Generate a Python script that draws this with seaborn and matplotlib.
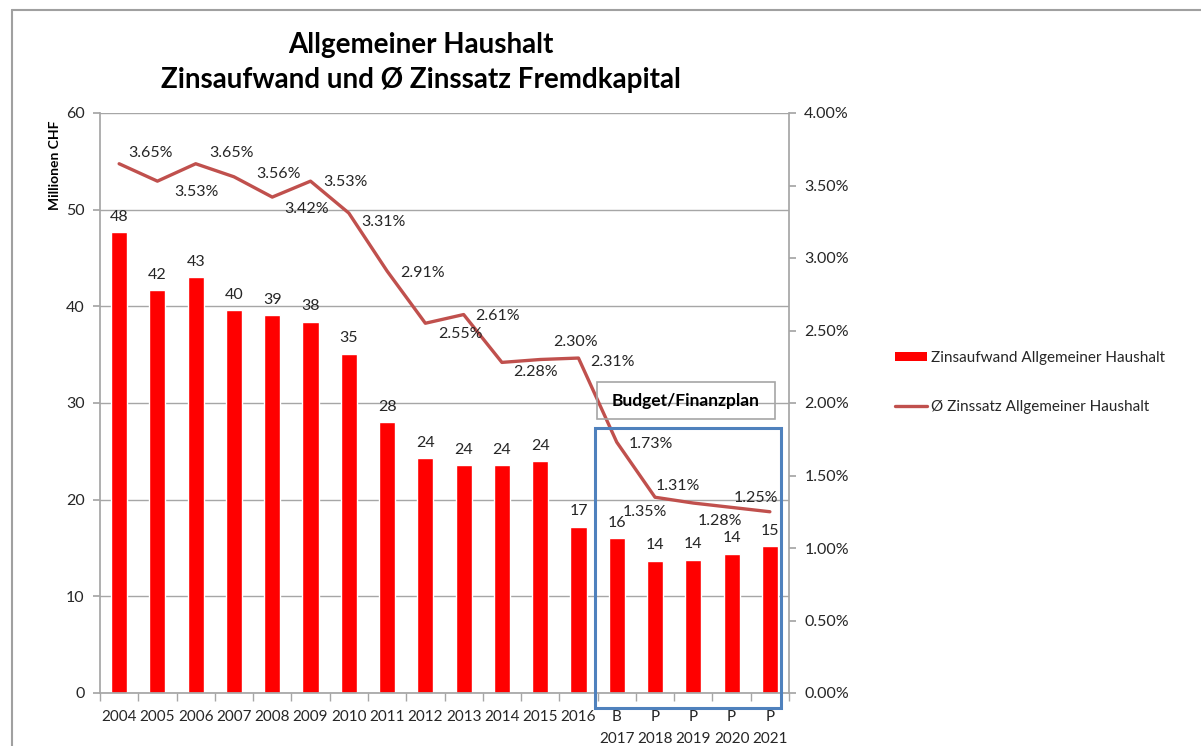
import numpy as np
import matplotlib
matplotlib.use("Agg")
from matplotlib import pyplot as plt
from matplotlib.patches import Patch, Rectangle
from matplotlib.lines import Line2D
from matplotlib.ticker import FuncFormatter
import seaborn as sns

sns.set_theme(style="white")
plt.rcParams["font.family"] = ["Lato", "DejaVu Sans"]

# data
years = ["2004", "2005", "2006", "2007", "2008", "2009", "2010", "2011", "2012",
         "2013", "2014", "2015", "2016", "B\n2017", "P\n2018", "P\n2019", "P\n2020", "P\n2021"]
zinsaufwand = [47.7, 41.7, 43.0, 39.6, 39.1, 38.4, 35.1, 28.0, 24.3,
               23.6, 23.6, 24.0, 17.2, 16.0, 13.7, 13.8, 14.4, 15.2]
zinssatz = [3.65, 3.53, 3.65, 3.56, 3.42, 3.53, 3.31, 2.91, 2.55,
            2.61, 2.28, 2.30, 2.31, 1.73, 1.35, 1.31, 1.28, 1.25]

bar_label = "Zinsaufwand Allgemeiner Haushalt"
line_label = "Ø Zinssatz Allgemeiner Haushalt"

# label offsets for the rate labels (pixels, right / down)
rate_offsets = [(31, -11), (39, 11), (36, -11), (45, -3), (34, 12), (35, 1),
                (35, 9), (35, 2), (35, 11), (34, 1), (34, 10), (35, -17),
                (34, 4), (34, 2), (-10, 15), (-15, -17), (-12, 14), (-14, -14)]

W, H = 1201, 746
fig = plt.figure(figsize=(W / 100, H / 100), dpi=100)
ax = fig.add_axes([100 / W, 1 - 693 / H, 689 / W, 580 / H])

text_col = "#262626"
grid_col = "#A6A6A6"
bar_col = "#FF0000"
line_col = "#C0504D"

sns.barplot(x=years, y=zinsaufwand, color=bar_col, width=0.42, saturation=1,
            ax=ax, zorder=2)
ax.bar_label(ax.containers[0], fmt="%.0f", padding=6, fontsize=11.5, color=text_col)

ax.set_ylim(0, 60)
ax.set_xlim(-0.5, len(years) - 0.5)
ax.set_yticks(np.arange(0, 61, 10))
ax.yaxis.grid(True, color=grid_col, lw=1)
ax.set_axisbelow(True)
ax.set_ylabel("")
for s in ["top", "right"]:
    ax.spines[s].set_visible(False)
for s in ["left", "bottom"]:
    ax.spines[s].set_color(grid_col)
ax.tick_params(axis="y", length=5, color=grid_col, labelsize=11.5, labelcolor=text_col, pad=6, left=True)
ax.tick_params(axis="x", which="major", length=0, labelsize=11, labelcolor=text_col, pad=12.5)
for lbl in ax.get_xticklabels():
    lbl.set_linespacing(1.7)
ax.set_xticks(np.arange(-0.5, len(years), 1), minor=True)
ax.tick_params(axis="x", which="minor", length=6, color=grid_col, bottom=True)

ax2 = ax.twinx()
sns.lineplot(x=np.arange(len(years)), y=zinssatz, color=line_col, lw=2.4, ax=ax2, zorder=3)
ax2.set_ylim(0, 4)
ax2.set_yticks(np.arange(0, 4.01, 0.5))
ax2.yaxis.set_major_formatter(FuncFormatter(lambda v, p: f"{v:.2f}%"))
for s in ["top", "left", "bottom"]:
    ax2.spines[s].set_visible(False)
ax2.spines["right"].set_color(grid_col)
ax2.tick_params(axis="y", length=5, color=grid_col, labelsize=11.5, labelcolor=text_col, pad=6, right=True)
ax2.grid(False)

for i, (v, (dx, dy)) in enumerate(zip(zinssatz, rate_offsets)):
    ax2.annotate(f"{v:.2f}%", (i, v), xytext=(dx * 0.72, -dy * 0.72),
                 textcoords="offset points", ha="center", va="center",
                 fontsize=11.5, color=text_col)

# title
fig.text(421 / W, 1 - 45 / H, "Allgemeiner Haushalt", ha="center", va="center",
         fontsize=20, fontweight="bold", color="black")
fig.text(421 / W, 1 - 80 / H, "Zinsaufwand und Ø Zinssatz Fremdkapital", ha="center",
         va="center", fontsize=20, fontweight="bold", color="black")

fig.text(55 / W, 1 - 165 / H, "Millionen CHF", rotation=90, ha="center", va="center",
         fontsize=10, fontweight="bold", color="black")

# budget / plan markers
fig.add_artist(Rectangle((595 / W, 1 - 708 / H), 186 / W, 280 / H, transform=fig.transFigure,
                         fill=False, edgecolor="#4F81BD", lw=2.2, zorder=5))
fig.add_artist(Rectangle((597 / W, 1 - 419 / H), 178 / W, 37 / H, transform=fig.transFigure,
                         fill=False, edgecolor="#A6A6A6", lw=1.2, zorder=1))
fig.text(686 / W, 1 - 401 / H, "Budget/Finanzplan", ha="center", va="center",
         fontsize=12.5, fontweight="bold", color="black")

# legend
handles = [Patch(facecolor=bar_col, edgecolor="none"), Line2D([], [], color=line_col, lw=2.4)]
fig.legend(handles, [bar_label, line_label], loc="upper left",
           bbox_to_anchor=(881 / W, 1 - 337 / H), frameon=False, fontsize=11,
           handlelength=2.1, handleheight=0.6, handletextpad=0.3, labelspacing=2.3,
           labelcolor=text_col)

# outer frame
fig.add_artist(Line2D([12 / W, 1], [1 - 10 / H, 1 - 10 / H], transform=fig.transFigure,
                      color="#A0A0A0", lw=1.5))
fig.add_artist(Line2D([12 / W, 12 / W], [0, 1 - 10 / H], transform=fig.transFigure,
                      color="#A0A0A0", lw=1.5))

fig.savefig("out.png", dpi=100, facecolor="white")
